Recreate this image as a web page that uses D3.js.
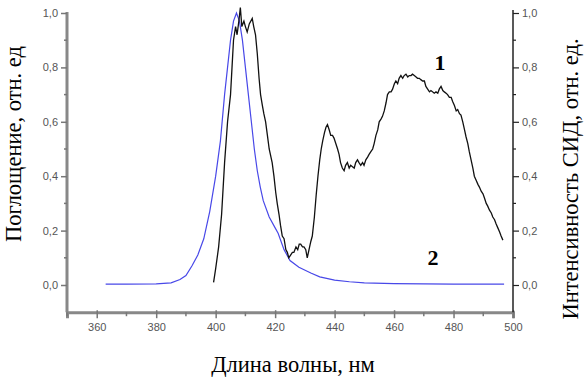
<!DOCTYPE html>
<html>
<head>
<meta charset="utf-8">
<script src="https://cdn.jsdelivr.net/npm/d3@7"></script>
<style>
  body { margin: 0; background: #fff; }
  svg { display: block; }
</style>
</head>
<body>
<div id="chart"></div>
<script>
// spectrum 1 (LED intensity, black)
var wl1 = [399.3, 400, 401, 402, 403, 404, 405, 405.5, 406, 406.7, 407.2, 407.8, 408.3, 408.8, 409.5, 410, 410.6, 411.3, 412.3, 412.8, 413.4, 414, 414.6, 415.1, 415.7, 416.2, 416.8, 417.4, 418, 419, 419.6, 420.2, 420.7, 421.3, 421.8, 422.4, 423, 423.6, 424.1, 424.6, 425.2, 425.8, 426.3, 427, 427.6, 428.1, 428.6, 429.2, 429.7, 430.3, 430.8, 431.4, 432, 432.5, 433.2, 433.8, 434.4, 435, 435.5, 436, 436.6, 437.1, 437.6, 438.2, 438.7, 439.3, 439.8, 440.4, 441, 441.5, 442, 442.6, 443.2, 443.7, 444.3, 444.9, 445.4, 446, 446.6, 447.1, 447.7, 448.2, 448.8, 449.4, 449.9, 450.5, 451.1, 451.6, 452.2, 452.8, 453.3, 453.9, 454.5, 455, 455.6, 456.1, 456.7, 457.3, 457.8, 458.4, 459, 459.5, 460.1, 460.6, 461.2, 461.7, 462.3, 462.9, 463.4, 464, 464.6, 465.1, 465.7, 466.2, 466.8, 467.4, 467.9, 468.5, 469, 469.6, 470.2, 470.7, 471.3, 471.9, 472.4, 473, 473.5, 474.1, 474.7, 475.2, 475.8, 476.4, 476.9, 477.5, 478, 478.6, 479.2, 479.7, 480.3, 480.9, 481.4, 482, 482.5, 483.1, 483.7, 484.2, 484.8, 485.3, 485.9, 486.5, 487, 487.6, 488.2, 488.7, 489.3, 489.9, 490.4, 491, 491.5, 492.1, 492.7, 493.2, 493.8, 494.3, 494.9, 495.5, 496, 496.6];
var int1 = [0.01, 0.06, 0.14, 0.26, 0.45, 0.60, 0.70, 0.80, 0.90, 0.95, 0.92, 0.97, 1.02, 0.95, 0.97, 0.95, 0.93, 0.96, 0.98, 0.95, 0.92, 0.85, 0.76, 0.70, 0.66, 0.63, 0.60, 0.55, 0.50, 0.45, 0.40, 0.34, 0.30, 0.26, 0.22, 0.18, 0.17, 0.13, 0.12, 0.10, 0.11, 0.12, 0.12, 0.14, 0.13, 0.15, 0.15, 0.14, 0.14, 0.13, 0.10, 0.13, 0.16, 0.18, 0.25, 0.33, 0.40, 0.46, 0.50, 0.53, 0.56, 0.58, 0.59, 0.57, 0.55, 0.55, 0.54, 0.52, 0.50, 0.48, 0.45, 0.43, 0.42, 0.44, 0.45, 0.43, 0.44, 0.435, 0.43, 0.45, 0.46, 0.45, 0.44, 0.45, 0.44, 0.46, 0.47, 0.48, 0.49, 0.50, 0.52, 0.55, 0.57, 0.60, 0.61, 0.62, 0.64, 0.67, 0.70, 0.71, 0.71, 0.72, 0.74, 0.75, 0.74, 0.76, 0.77, 0.76, 0.77, 0.775, 0.765, 0.77, 0.77, 0.775, 0.77, 0.765, 0.76, 0.76, 0.755, 0.75, 0.75, 0.73, 0.72, 0.71, 0.715, 0.71, 0.705, 0.71, 0.705, 0.72, 0.73, 0.715, 0.71, 0.705, 0.70, 0.69, 0.69, 0.675, 0.66, 0.64, 0.645, 0.63, 0.625, 0.60, 0.57, 0.545, 0.52, 0.49, 0.46, 0.43, 0.40, 0.385, 0.37, 0.36, 0.345, 0.335, 0.32, 0.30, 0.29, 0.275, 0.265, 0.25, 0.24, 0.225, 0.21, 0.195, 0.18, 0.165];

// spectrum 2 (absorption, blue)
var wl2 = [363, 370, 380, 385, 388, 390, 392, 394, 396, 398, 400, 401.6, 403, 404, 405, 406, 407, 408, 409, 410, 411, 412, 413, 414, 415, 416, 418, 420, 421, 423, 425, 428, 432, 435, 440, 445, 450, 460, 470, 480, 490, 497];
var abs2 = [0.003, 0.003, 0.004, 0.008, 0.02, 0.035, 0.07, 0.11, 0.17, 0.27, 0.40, 0.53, 0.70, 0.80, 0.90, 0.97, 1.0, 0.97, 0.90, 0.80, 0.70, 0.60, 0.50, 0.42, 0.36, 0.31, 0.25, 0.21, 0.19, 0.13, 0.09, 0.065, 0.044, 0.03, 0.018, 0.012, 0.008, 0.005, 0.004, 0.003, 0.003, 0.003];

var xTicks = [360, 380, 400, 420, 440, 460, 480, 500];
var yTicks = [0, 0.2, 0.4, 0.6, 0.8, 1.0];

var width = 586, height = 381;
var plotLeft = 67, plotRight = 513, plotTop = 13, zeroY = 285;

var svg = d3.select("#chart")
  .append("svg")
    .attr("width", width)
    .attr("height", height);

var x = d3.scaleLinear()
  .domain([350, 500])
  .range([plotLeft, plotRight]);

var y = d3.scaleLinear()
  .domain([0, 1])
  .range([zeroY, plotTop]);

var bottomY = y(-0.1);
var fmt = function(d) { return d3.format(".1f")(d).replace(".", ","); };
var tickFont = "Arial, 'Liberation Sans', sans-serif";
var titleFont = "'Liberation Serif', 'Times New Roman', serif";

// minor ticks
var xMinor = [350, 370, 390, 410, 430, 450, 470, 490];
var yMinor = [0.1, 0.3, 0.5, 0.7, 0.9];

// bottom axis
var gx = svg.append("g")
  .attr("transform", "translate(0," + bottomY + ")")
  .call(d3.axisBottom(x).tickValues(xTicks).tickSize(6).tickFormat(d3.format("d")));
gx.select(".domain").attr("stroke", "#888").attr("stroke-width", 3);
gx.selectAll(".tick line").attr("stroke", "#777").attr("stroke-width", 1.5).attr("y1", -2);
gx.selectAll(".tick text").attr("fill", "#555").attr("font-family", tickFont).attr("font-size", 11).attr("dy", "0.9em");
svg.append("g").selectAll("line").data(xMinor).enter().append("line")
  .attr("x1", function(d) { return x(d); }).attr("x2", function(d) { return x(d); })
  .attr("y1", bottomY).attr("y2", bottomY + 4)
  .attr("stroke", "#777").attr("stroke-width", 1.5);

// left axis
var gl = svg.append("g")
  .attr("transform", "translate(" + plotLeft + ",0)")
  .call(d3.axisLeft(y).tickValues(yTicks).tickSize(6).tickFormat(fmt));
gl.select(".domain").attr("d", "M0," + (plotTop - 1) + "V" + bottomY).attr("stroke", "#888").attr("stroke-width", 3);
gl.selectAll(".tick line").attr("stroke", "#777").attr("stroke-width", 1.5);
gl.selectAll(".tick text").attr("fill", "#555").attr("font-family", tickFont).attr("font-size", 11).attr("x", -9);
svg.append("g").selectAll("line").data(yMinor).enter().append("line")
  .attr("x1", plotLeft - 3).attr("x2", plotLeft)
  .attr("y1", function(d) { return y(d); }).attr("y2", function(d) { return y(d); })
  .attr("stroke", "#777").attr("stroke-width", 1.5);

// right axis
var gr = svg.append("g")
  .attr("transform", "translate(" + plotRight + ",0)")
  .call(d3.axisRight(y).tickValues(yTicks).tickSize(6).tickFormat(fmt));
gr.select(".domain").attr("d", "M0," + (plotTop - 3) + "V" + bottomY).attr("stroke", "#222").attr("stroke-width", 1.5);
gr.selectAll(".tick line").attr("stroke", "#222").attr("stroke-width", 1.2);
gr.selectAll(".tick text").attr("fill", "#555").attr("font-family", tickFont).attr("font-size", 11).attr("x", 9);
svg.append("g").selectAll("line").data(yMinor).enter().append("line")
  .attr("x1", plotRight).attr("x2", plotRight + 3)
  .attr("y1", function(d) { return y(d); }).attr("y2", function(d) { return y(d); })
  .attr("stroke", "#222").attr("stroke-width", 1.2);

// lines
var line = d3.line()
  .x(function(d) { return x(d[0]); })
  .y(function(d) { return y(d[1]); });

svg.append("path")
  .datum(d3.zip(wl2, abs2))
  .attr("fill", "none")
  .attr("stroke", "#4848e8")
  .attr("stroke-width", 1.2)
  .attr("d", line);

svg.append("path")
  .datum(d3.zip(wl1, int1))
  .attr("fill", "none")
  .attr("stroke", "#111")
  .attr("stroke-width", 1.3)
  .attr("d", line);

// curve labels
svg.append("text").attr("x", 440).attr("y", 70).attr("text-anchor", "middle")
  .attr("font-family", titleFont).attr("font-weight", "bold").attr("font-size", 22)
  .text("1");
svg.append("text").attr("x", 433).attr("y", 265).attr("text-anchor", "middle")
  .attr("font-family", titleFont).attr("font-weight", "bold").attr("font-size", 22)
  .text("2");

// axis titles
svg.append("text")
  .attr("x", 293).attr("y", 372)
  .attr("text-anchor", "middle")
  .attr("font-family", titleFont).attr("font-size", 22.5)
  .text("Длина волны, нм");

svg.append("text")
  .attr("transform", "translate(21,144) rotate(-90)")
  .attr("text-anchor", "middle")
  .attr("font-family", titleFont).attr("font-size", 22.5)
  .text("Поглощение, отн. ед");

svg.append("text")
  .attr("transform", "translate(578,179) rotate(-90)")
  .attr("text-anchor", "middle")
  .attr("font-family", titleFont).attr("font-size", 22.5)
  .text("Интенсивность СИД, отн. ед.");
</script>
</body>
</html>
